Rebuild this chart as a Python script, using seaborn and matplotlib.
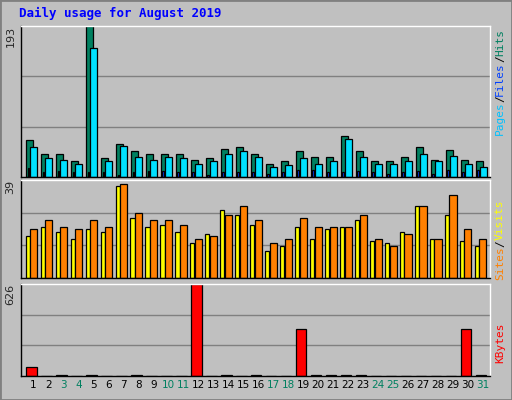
import matplotlib
matplotlib.use("Agg")
import matplotlib.pyplot as plt
import seaborn as sns
import numpy as np
from matplotlib.patches import Rectangle

sns.set_theme(style="white")
plt.rcParams['font.family'] = ['DejaVu Sans Mono', 'DejaVu Sans']

days = list(range(1, 32))
day_labels = [str(d) for d in days]
weekend = [3, 4, 10, 11, 17, 18, 24, 25, 31]
hits = [47,30,30,21,193,24,42,33,30,30,29,22,24,36,38,30,17,21,33,25,26,53,33,21,21,26,38,22,35,22,21]
files = [38,24,22,17,165,20,39,26,22,26,24,17,21,30,33,26,13,15,24,17,21,48,26,16,17,21,30,20,27,17,13]
pages = [11,6,8,6,7,6,3,6,8,8,6,6,3,7,6,6,4,7,9,9,6,6,8,6,4,6,8,4,9,7,9]
sites = [16.7,20.3,18.3,15.4,19.5,18.3,36.6,24,20.3,21.1,18.3,13.8,17.5,27.2,25.2,21.1,10.6,12.6,20.3,15.4,19.5,20.3,23.2,14.6,13.8,18.3,28.8,15.4,25.2,14.6,12.6]
visits = [19.5,23.2,20.3,19.5,23.2,20.3,37.4,26,23.2,23.2,21.1,15.4,16.7,25.2,28.8,23.2,13.8,15.4,24,20.3,20.3,20.3,25.2,15.4,12.6,17.5,28.8,15.4,32.9,19.5,15.4]
kbytes = [64,3,8,3,8,3,3,8,3,3,3,626,3,8,3,8,3,3,323,8,8,8,8,3,3,3,3,3,3,323,8]

W, H = 512, 400
fig = plt.figure(figsize=(W/100, H/100), dpi=100, facecolor='#C0C0C0')
# frame
fig.patches.append(Rectangle((0, 0), 1, 1, transform=fig.transFigure, fill=False, ec='#808080', lw=2))
fig.text(19/W, 1-13/H, "Daily usage for August 2019", color='#0000FF', fontsize=9,
         fontweight='bold', va='center', ha='left')

def mkax(top, bottom):
    ax = fig.add_axes([21/W, 1-bottom/H, (490-21)/W, (bottom-top)/H])
    ax.set_facecolor('#C0C0C0')
    for s in ax.spines.values():
        s.set_color('black'); s.set_linewidth(1)
    ax.spines['right'].set_color('white'); ax.spines['top'].set_color('white')
    ax.set_xlim(0.18, 31.47)
    ax.set_xticks([]); ax.set_yticks([])
    ax.set_xlabel(''); ax.set_ylabel('')
    return ax

d = np.array(days, dtype=float)
ek = dict(edgecolor='black', linewidth=0.9, native_scale=True, legend=False)

ax1 = mkax(26, 177)
sns.barplot(x=d-0.25, y=hits, color='#008060', width=0.47, ax=ax1, saturation=1, **ek)
sns.barplot(x=d+0.02, y=files, color='#00E0FF', width=0.47, ax=ax1, saturation=1, **ek)
sns.barplot(x=d-0.32, y=pages, color='#0040FF', width=0.12, ax=ax1, saturation=1, **ek)
ax1.set_ylim(0, 193)
for g in (193/3, 2*193/3):
    ax1.axhline(g, color='#808080', lw=1, zorder=0)

ax2 = mkax(180, 278)
sns.barplot(x=d-0.38, y=sites, color='#FFFF00', width=0.27, ax=ax2, saturation=1, **ek)
sns.barplot(x=d, y=visits, color='#FF8000', width=0.47, ax=ax2, saturation=1, **ek)
ax2.set_ylim(0, 39)
for g in (13, 26):
    ax2.axhline(g, color='#808080', lw=1, zorder=0)

ax3 = mkax(284, 376)
sns.barplot(x=d-0.12, y=kbytes, color='#FF0000', width=0.69, ax=ax3, saturation=1, **ek)
ax3.set_ylim(0, 626)
for g in (626/3, 2*626/3):
    ax3.axhline(g, color='#808080', lw=1, zorder=0)
for a in (ax1, ax2, ax3):
    a.set_xlim(0.18, 31.47); a.set_xticks([]); a.set_xlabel(''); a.set_ylabel('')

for dd, lab in zip(days, day_labels):
    ax3.text(dd, -0.04, lab, transform=ax3.get_xaxis_transform(), ha='center', va='top',
             fontsize=7.5, color='#008060' if dd in weekend else 'black', family='DejaVu Sans')

for ax, lab in ((ax1, '193'), (ax2, '39'), (ax3, '626')):
    ax.text(-0.012, 1.0, lab, transform=ax.transAxes, rotation=90, ha='right', va='top',
            fontsize=8, family='DejaVu Sans')

def rlabel(y, parts):
    # parts listed bottom-to-top
    total = sum(len(p[0]) for p in parts)
    cw = 6.6
    start = y + total*cw/2
    pos = start
    for txt, col in parts:
        fig.text(500/W, 1-(pos - len(txt)*cw/2)/H, txt, color=col, rotation=90,
                 ha='center', va='center', fontsize=8)
        pos -= len(txt)*cw

rlabel(82, [("Pages", '#00C0FF'), ("/", 'black'), ("Files", '#0040FF'), ("/", 'black'), ("Hits", '#008060')])
rlabel(240, [("Sites", '#FF8000'), ("/", 'black'), ("Visits", '#FFFF00')])
rlabel(343, [("KBytes", '#FF0000')])

fig.savefig("out.png", dpi=100, facecolor=fig.get_facecolor())
